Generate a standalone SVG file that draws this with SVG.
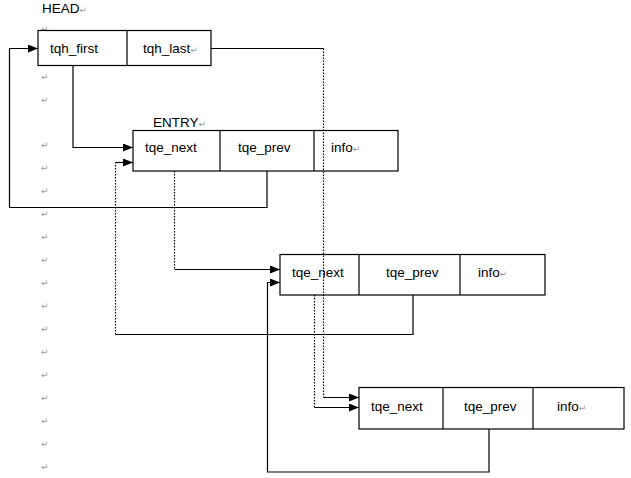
<svg xmlns="http://www.w3.org/2000/svg" width="631" height="478" viewBox="0 0 631 478">
<style>
.box{fill:#fff;stroke:#000;stroke-width:1.2}
.div{stroke:#000;stroke-width:1.2}
.t{font-family:"Liberation Sans",Arial,sans-serif;font-size:13.5px;fill:#000}
.pm{font-family:"DejaVu Sans",sans-serif;font-size:9px;fill:#9a9a9a}
.s{fill:none;stroke:#000;stroke-width:1.2}
.d{fill:none;stroke:#000;stroke-width:1.2;stroke-dasharray:1.5 1.5}
</style>
<defs>
<marker id="ah" markerWidth="10" markerHeight="8" refX="10" refY="4" orient="auto" markerUnits="userSpaceOnUse">
<path d="M0,0 L10,4 L0,8 Z" fill="#000"/>
</marker>
</defs>
<rect width="631" height="478" fill="#fff"/>
<g id="paragraph-marks" class="pm">
<text x="41" y="32">↵</text>
<text x="41" y="80">↵</text>
<text x="41" y="103">↵</text>
<text x="41" y="148">↵</text>
<text x="41" y="171">↵</text>
<text x="41" y="194">↵</text>
<text x="41" y="217">↵</text>
<text x="41" y="240">↵</text>
<text x="41" y="263">↵</text>
<text x="41" y="286">↵</text>
<text x="41" y="309">↵</text>
<text x="41" y="332">↵</text>
<text x="41" y="355">↵</text>
<text x="41" y="378">↵</text>
<text x="41" y="401">↵</text>
<text x="41" y="424">↵</text>
<text x="41" y="447">↵</text>
<text x="41" y="470">↵</text>
</g>
<g id="head">
<text class="t" x="42" y="13">HEAD<tspan class="pm">↵</tspan></text>
<rect class="box" x="38" y="30.5" width="173" height="35"/>
<line class="div" x1="127" y1="30.5" x2="127" y2="65.5"/>
<text class="t" x="50" y="53">tqh_first</text>
<text class="t" x="143" y="53">tqh_last<tspan class="pm">↵</tspan></text>
</g>
<g id="entry1">
<text class="t" x="153" y="127">ENTRY<tspan class="pm">↵</tspan></text>
<rect class="box" x="133" y="130.5" width="265" height="40.5"/>
<line class="div" x1="220" y1="130.5" x2="220" y2="171"/>
<line class="div" x1="314" y1="130.5" x2="314" y2="171"/>
<text class="t" x="145" y="152">tqe_next</text>
<text class="t" x="238" y="152">tqe_prev</text>
<text class="t" x="331" y="152">info<tspan class="pm">↵</tspan></text>
</g>
<g id="entry2">
<rect class="box" x="280" y="254.5" width="265" height="40.5"/>
<line class="div" x1="359" y1="254.5" x2="359" y2="295"/>
<line class="div" x1="460" y1="254.5" x2="460" y2="295"/>
<text class="t" x="292" y="277">tqe_next</text>
<text class="t" x="386" y="277">tqe_prev</text>
<text class="t" x="478" y="277">info<tspan class="pm">↵</tspan></text>
</g>
<g id="entry3">
<rect class="box" x="359" y="387.5" width="265" height="41.5"/>
<line class="div" x1="443" y1="387.5" x2="443" y2="429"/>
<line class="div" x1="533" y1="387.5" x2="533" y2="429"/>
<text class="t" x="371" y="411">tqe_next</text>
<text class="t" x="464" y="411">tqe_prev</text>
<text class="t" x="557" y="411">info<tspan class="pm">↵</tspan></text>
</g>
<g id="connectors">
<!-- head.tqh_first -> entry1 -->
<polyline class="s" points="73,65.5 73,147.5 133,147.5" marker-end="url(#ah)"/>
<!-- entry1.tqe_prev -> head.tqh_first -->
<polyline class="s" points="267,171 267,207.5 9.5,207.5 9.5,48.5 38,48.5" marker-end="url(#ah)"/>
<!-- head.tqh_last -> entry3.tqe_next -->
<polyline class="s" points="211,48.5 323.5,48.5"/>
<polyline class="d" points="323.5,48.5 323.5,397.5"/>
<line class="s" x1="323.5" y1="397.5" x2="359" y2="397.5" marker-end="url(#ah)"/>
<!-- entry1.tqe_next -> entry2 -->
<polyline class="d" points="174.5,171 174.5,269.5"/>
<line class="s" x1="174.5" y1="269.5" x2="280" y2="269.5" marker-end="url(#ah)"/>
<!-- entry2.tqe_prev -> entry1.tqe_next -->
<polyline class="s" points="413,295 413,334.5 115.5,334.5"/>
<polyline class="d" points="115.5,334.5 115.5,162.5"/>
<line class="s" x1="115.5" y1="162.5" x2="133" y2="162.5" marker-end="url(#ah)"/>
<!-- entry2.tqe_next -> entry3 -->
<polyline class="d" points="314.5,295 314.5,407.5"/>
<line class="s" x1="314.5" y1="407.5" x2="359" y2="407.5" marker-end="url(#ah)"/>
<!-- entry3.tqe_prev -> entry2.tqe_next -->
<polyline class="s" points="489,429 489,472 267.5,472 267.5,282.5 280,282.5" marker-end="url(#ah)"/>
</g>
</svg>
